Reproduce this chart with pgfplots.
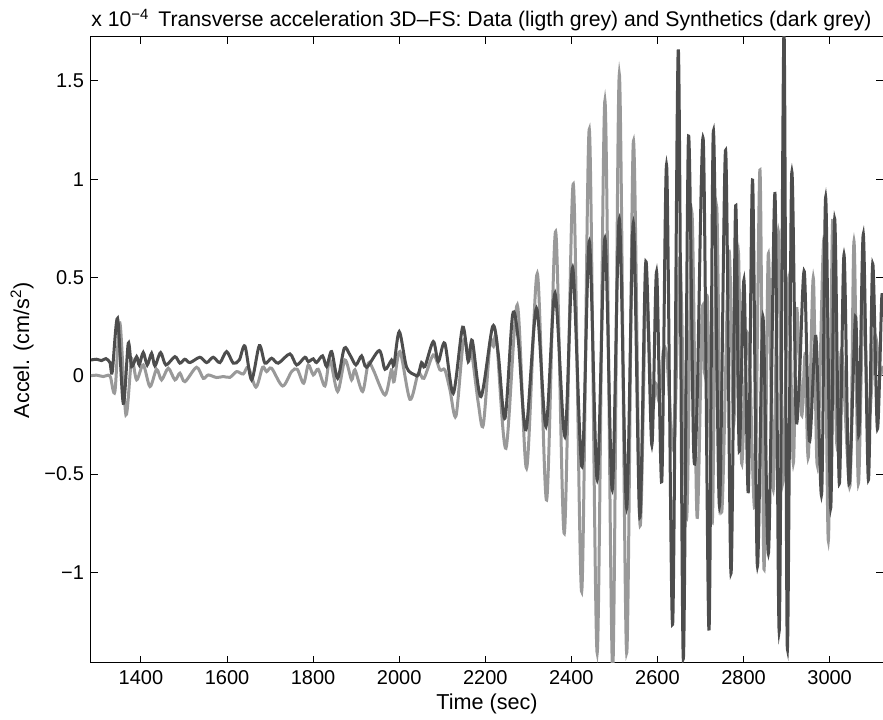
\documentclass[border=0pt]{standalone}
\usepackage{fontspec}
\setmainfont{Liberation Sans}
\usepackage{pgfplots}
\pgfplotsset{compat=1.18}
\usetikzlibrary{calc}
\definecolor{datagrey}{RGB}{153,153,153}
\definecolor{syngrey}{RGB}{77,77,77}

% light grey: observed data
\pgfplotstableread{
t v
1284 0.000
1297 0.003
1312.5 -0.004
1324 0.003
1329.5 -0.008
1339.6 -0.080
1351.2 0.267
1365.1 -0.199
1378.3 0.080
1390 -0.021
1405.4 0.055
1421 -0.055
1436.4 0.033
1448 -0.021
1463.5 0.038
1479 -0.021
1490.6 0.013
1502.2 -0.030
1529.3 0.043
1544.8 -0.013
1556.4 0.004
1575.8 -0.009
1591.3 -0.004
1606.8 -0.008
1622.3 0.021
1637.8 0.009
1649.4 0.043
1667.2 -0.058
1682.7 0.043
1692 0.021
1703.6 0.038
1729.2 -0.052
1750 0.021
1763.2 0.033
1778 -0.038
1788.8 0.055
1800.4 0.004
1812 0.033
1827.5 -0.052
1839.1 0.080
1857 -0.080
1874 0.080
1889.4 -0.021
1897.2 0.030
1915 -0.080
1928.2 0.064
1939.8 0.030
1967 -0.098
1982 0.030
1988 -0.030
2001.8 0.123
2025 -0.120
2044.3 0.013
2057.5 -0.013
2079.2 0.106
2094.7 0.030
2106 0.030
2118 -0.072
2132 -0.204
2149 0.174
2160.5 0.114
2168 0.123
2183.8 -0.140
2195.4 -0.250
2211 0.165
2219 0.150
2226.4 0.182
2248 -0.369
2274.4 0.360
2296 -0.470
2320.9 0.520
2342.5 -0.632
2363.5 0.733
2383.6 -0.802
2404.5 0.975
2424 -1.098
2441.7 1.254
2460 -1.410
2478 1.400
2496 -1.500
2511.4 1.534
2528.4 -1.410
2544 1.192
2559.4 -0.756
2573.3 0.436
2586.5 -0.176
2596 -0.040
2604 -0.124
2613.6 0.125
2622 0.090
2638.4 -0.373
2652.3 0.602
2667.8 -0.725
2680 0.830
2692 -0.720
2704 0.342
2710 0.010
2716 0.394
2727.4 -0.746
2737.5 0.860
2749 -0.694
2766 0.633
2777 -0.250
2788 0.630
2795.6 -0.445
2807 0.208
2815 0.000
2826.6 -0.652
2838.2 1.047
2847.5 -0.984
2857.5 0.620
2869 -0.580
2880.8 0.734
2890.8 -0.549
2904 0.487
2915.6 -0.445
2923.4 0.342
2935 -0.200
2943 0.104
2950.5 -0.414
2962 0.498
2971.4 -0.456
2987 0.694
2997 -0.839
3007 0.788
3016.3 -0.342
3028 0.130
3047.3 -0.559
3056.6 0.684
3066.7 -0.549
3078.3 0.415
3090 -0.270
3105 0.200
3117 0.010
3124 0.050
}\obsdata

% dark grey: synthetics
\pgfplotstableread{
t v
1284 0.080
1297 0.084
1308.6 0.077
1318.7 0.087
1328 0.067
1333.4 0.021
1345.8 0.292
1359 -0.140
1370.6 0.165
1378.3 0.047
1390 0.097
1396 0.055
1405.4 0.118
1414.7 0.055
1424.8 0.114
1432.5 0.050
1445.7 0.118
1458 0.055
1479 0.097
1490.6 0.064
1502 0.084
1514 0.067
1537 0.094
1552.6 0.067
1568 0.094
1583.5 0.067
1599 0.123
1614.5 0.064
1628.5 0.080
1641.6 0.151
1657.1 -0.021
1675 0.153
1688.1 0.064
1703.6 0.089
1719 0.064
1746 0.111
1761.7 0.055
1781 0.094
1788.8 0.072
1800.4 0.086
1808 0.067
1822 0.101
1831.4 0.047
1843 0.123
1857 -0.013
1872.4 0.140
1885.6 0.106
1899.5 0.055
1912.7 0.101
1924.3 0.043
1953.7 0.128
1967 0.033
1982.4 0.080
1987.8 0.055
2000.2 0.224
2017.2 0.043
2036.6 0.004
2044.3 0.004
2052 0.067
2059.8 0.047
2079.2 0.174
2090.8 0.072
2106 0.165
2125.7 -0.089
2147.4 0.247
2160.5 0.072
2169.8 0.179
2190 -0.106
2217 0.250
2230 0.114
2245.8 -0.216
2263.5 0.310
2276.7 0.182
2294.5 -0.275
2319 0.343
2341 -0.258
2362 0.420
2385 -0.309
2403 0.550
2424.6 -0.462
2441.7 0.684
2460 -0.528
2478 0.699
2495 -0.580
2511.4 0.798
2528.4 -0.673
2544 0.778
2559 -0.720
2573 0.581
2587 -0.352
2598 0.529
2610 -0.539
2621.4 1.068
2635.3 -1.264
2648.5 1.659
2660 -1.440
2672 1.210
2684 -0.373
2692 -0.150
2706.5 1.197
2719.7 -1.295
2729.8 1.244
2744 -0.663
2758.4 1.147
2770.8 -1.005
2781.6 0.865
2790 -0.383
2801 0.487
2811 -0.590
2821 0.995
2832 -0.964
2845 0.300
2858 -0.900
2873 0.927
2883 -1.295
2894 1.760
2901.7 -1.388
2911.8 1.022
2921.8 -0.197
2930 0.000
2941.2 0.529
2953 -0.331
2968 0.200
2981.5 -0.600
2990.8 0.908
3002.4 -0.673
3011.7 0.798
3022.5 -0.549
3033.4 0.616
3045 -0.550
3060 0.300
3068 -0.300
3078.3 0.720
3090 -0.530
3100 0.570
3111 -0.270
3121 0.394
3124 0.300
}\syndata

\begin{document}
\fontsize{10pt}{12pt}\selectfont
\begin{tikzpicture}
\begin{axis}[
  name=ax,
  scale only axis,
  width=396pt, height=313pt,
  xmin=1284, xmax=3124,
  ymin=-1.461, ymax=1.723,
  xtick={1400,1600,...,3000},
  xticklabels={1400,1600,1800,2000,2200,2400,2600,2800,3000},
  ytick={-1,-0.5,0,0.5,1,1.5},
  yticklabels={−1,−0.5,0,0.5,1,1.5},
  scaled ticks=false,
  tick align=inside,
  major tick length=3.5pt,
  tick style={black,line width=0.5pt},
  axis line style={line width=0.5pt},
  xlabel={Time (sec)},
  ylabel={Accel. (cm/s\textsuperscript{2})},
  every axis x label/.style={at={(rel axis cs:0.5,0)},anchor=base,yshift=-23.5pt,font=\fontsize{10.8pt}{13pt}\selectfont},
  every axis y label/.style={at={(rel axis cs:0,0.5)},xshift=-34.5pt,rotate=90,anchor=center,font=\fontsize{10.8pt}{13pt}\selectfont},
]
  \addplot[datagrey,line width=1.5pt,smooth,no markers] table[x=t,y=v] {\obsdata};
  \addplot[syngrey,line width=1.5pt,smooth,no markers] table[x=t,y=v] {\syndata};
\end{axis}
\node[anchor=base west,inner sep=0pt,font=\fontsize{10.6pt}{12.5pt}\selectfont] at ($(ax.north west)+(33.5pt,5pt)$)
  {Transverse acceleration 3D–FS: Data (ligth grey) and Synthetics (dark grey)};
\node[anchor=base west,inner sep=0pt,font=\fontsize{10.6pt}{12.5pt}\selectfont] at ($(ax.north west)+(0pt,5pt)$)
  {x 10\textsuperscript{−4}};
\pgfresetboundingbox
\path[use as bounding box] ($(ax.south west)+(-45.5pt,-28.5pt)$) rectangle ($(ax.north east)+(0pt,18.5pt)$);
\end{tikzpicture}
\end{document}
